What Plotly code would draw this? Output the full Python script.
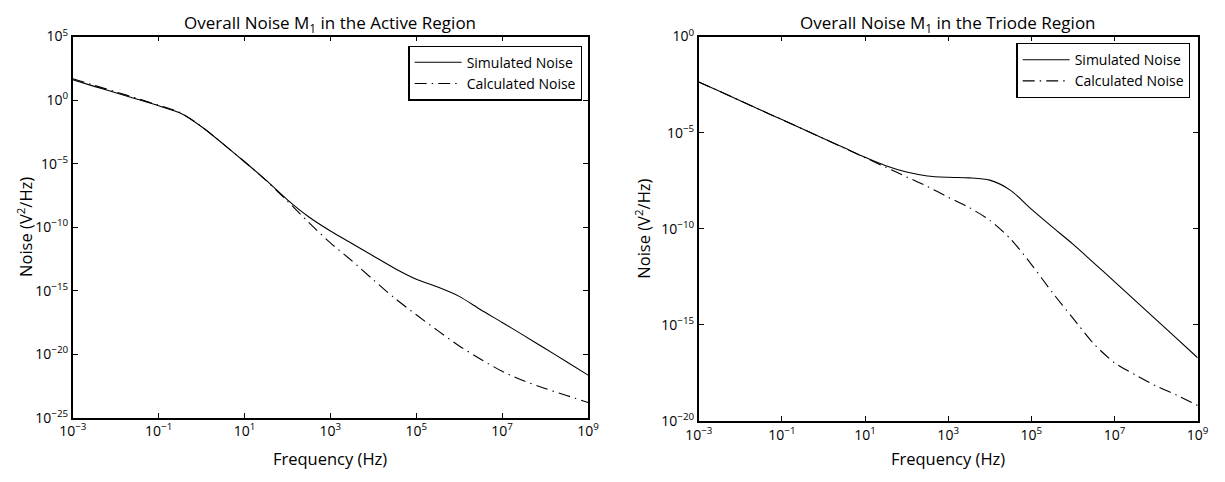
import plotly.graph_objects as go

# ---------------- data (log10 units) ----------------
# Left panel: Active region
act_logf = [-3, -2.5, -2, -1.5, -1, -0.5, 0, 0.5, 1, 1.5, 2, 2.5, 3, 3.5, 4, 4.5, 5, 5.5, 6, 6.5, 7, 7.5, 8, 8.5, 9]
act_sim = [1.6, 1.08, 0.58, 0.07, -0.45, -1.02, -2.1, -3.45, -4.85, -6.3, -7.85, -9.2, -10.3, -11.28, -12.27, -13.25, -14.1, -14.72, -15.45, -16.5, -17.5, -18.52, -19.55, -20.6, -21.65]
act_calc = [1.68, 1.16, 0.65, 0.13, -0.4, -0.98, -2.08, -3.45, -4.85, -6.32, -7.95, -9.65, -11.24, -12.65, -14.15, -15.6, -16.9, -18.15, -19.35, -20.4, -21.35, -22.1, -22.7, -23.25, -23.8]

# Right panel: Triode region
tri_logf = [-3, -2.5, -2, -1.5, -1, -0.5, 0, 0.5, 1, 1.5, 2, 2.5, 3, 3.5, 4, 4.5, 5, 5.5, 6, 6.5, 7, 7.5, 8, 8.5, 9]
tri_sim = [-2.36, -2.85, -3.34, -3.83, -4.32, -4.81, -5.3, -5.79, -6.28, -6.72, -7.05, -7.25, -7.32, -7.35, -7.47, -8.0, -8.98, -9.9, -10.8, -11.77, -12.75, -13.74, -14.73, -15.72, -16.71]
tri_calc = [-2.36, -2.85, -3.34, -3.83, -4.32, -4.81, -5.3, -5.8, -6.3, -6.8, -7.3, -7.8, -8.36, -8.89, -9.56, -10.53, -11.85, -13.3, -14.65, -15.98, -16.97, -17.6, -18.18, -18.66, -19.2]

x_ticks = [-3, -1, 1, 3, 5, 7, 9]
act_yticks = [5, 0, -5, -10, -15, -20, -25]
tri_yticks = [0, -5, -10, -15, -20]

titles = ["Overall Noise M<sub>1</sub> in the Active Region",
          "Overall Noise M<sub>1</sub> in the Triode Region"]
series_names = ["Simulated Noise", "Calculated Noise"]
x_label = "Frequency (Hz)"
y_label = "Noise (V<sup>2</sup>/Hz)"


def pw(e):
    s = str(e).replace("-", "\u2212")
    return "10<sup>" + s + "</sup>"


FONT = "Open Sans"
W, H = 1225, 482

fig = go.Figure()

panels = [
    (act_logf, act_sim, act_calc, "x", "y"),
    (tri_logf, tri_sim, tri_calc, "x2", "y2"),
]
for i, (lf, sim, calc, xa, ya) in enumerate(panels):
    fx = [10 ** v for v in lf]
    lg = "legend" if i == 0 else "legend2"
    fig.add_trace(go.Scatter(x=fx, y=[10 ** v for v in sim], mode="lines",
                             name=series_names[0], xaxis=xa, yaxis=ya, legend=lg,
                             line=dict(color="black", width=1.1, shape="spline", smoothing=0.8)))
    fig.add_trace(go.Scatter(x=fx, y=[10 ** v for v in calc], mode="lines",
                             name=series_names[1], xaxis=xa, yaxis=ya, legend=lg,
                             line=dict(color="black", width=1.1, shape="spline", smoothing=0.8,
                                       dash="12px,5px,1.5px,5px")))

# pixel geometry
L1, R1, T1, B1 = 60, 586, 26.7, 424.3
L2, R2, T2, B2 = 699, 1208.3, 26.7, 427.7

ax_common = dict(type="log", showline=True, linecolor="black", linewidth=1.6, mirror="ticks",
                 ticks="inside", ticklen=5, tickwidth=1, tickcolor="black", showgrid=False,
                 zeroline=False, tickfont=dict(family=FONT, size=14, color="black"))

leg_common = dict(xanchor="right", yanchor="top", bgcolor="white", bordercolor="black",
                  borderwidth=1.2, itemwidth=47, tracegroupgap=0,
                  font=dict(family=FONT, size=14, color="black"))

fig.update_layout(
    width=W, height=H, margin=dict(l=0, r=0, t=0, b=0),
    paper_bgcolor="white", plot_bgcolor="white",
    font=dict(family=FONT, color="black"),
    xaxis=dict(ax_common, domain=[L1 / W, R1 / W], range=[-3, 9], anchor="y",
               tickvals=[10 ** v for v in x_ticks], ticktext=[pw(v) for v in x_ticks]),
    yaxis=dict(ax_common, domain=[1 - B1 / H, 1 - T1 / H], range=[-25, 5], anchor="x",
               tickvals=[10 ** v for v in act_yticks], ticktext=[pw(v) for v in act_yticks]),
    xaxis2=dict(ax_common, domain=[L2 / W, R2 / W], range=[-3, 9], anchor="y2",
                tickvals=[10 ** v for v in x_ticks], ticktext=[pw(v) for v in x_ticks]),
    yaxis2=dict(ax_common, domain=[1 - B2 / H, 1 - T2 / H], range=[-20, 0], anchor="x2",
                tickvals=[10 ** v for v in tri_yticks], ticktext=[pw(v) for v in tri_yticks]),
    legend=dict(leg_common, x=580.3 / W, y=1 - 36 / H),
    legend2=dict(leg_common, x=1201 / W, y=1 - 33.3 / H),
    showlegend=True,
)

ann = []
for t, cx in zip(titles, [(L1 + R1) / 2, (L2 + R2) / 2]):
    ann.append(dict(text=t, x=cx / W, y=1 - 13 / H, xref="paper", yref="paper",
                    xanchor="center", yanchor="middle", showarrow=False,
                    font=dict(family=FONT, size=17, color="black")))
for cx in [(L1 + R1) / 2, (L2 + R2) / 2]:
    ann.append(dict(text=x_label, x=cx / W, y=1 - 467 / H, xref="paper", yref="paper",
                    xanchor="center", yanchor="middle", showarrow=False,
                    font=dict(family=FONT, size=16.5, color="black")))
for cx, (t, b) in zip([11, 642], [(T1, B1), (T2, B2)]):
    ann.append(dict(text=y_label, x=cx / W, y=1 - ((t + b) / 2) / H, xref="paper", yref="paper",
                    xanchor="center", yanchor="middle", showarrow=False, textangle=-90,
                    font=dict(family=FONT, size=16.5, color="black")))
fig.update_layout(annotations=ann)

fig.write_html("out.html")
